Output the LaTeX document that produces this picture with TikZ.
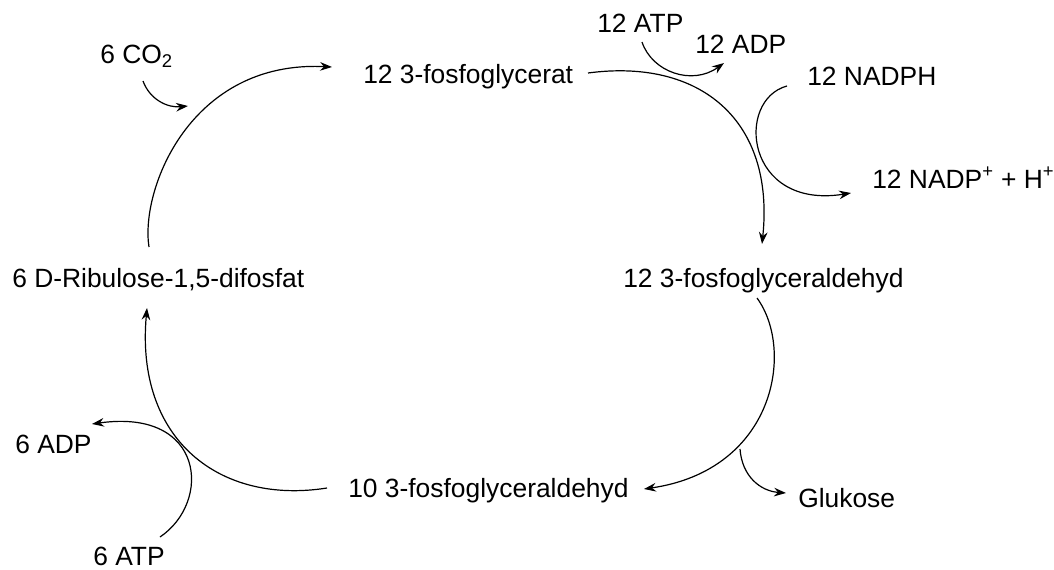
\documentclass[tikz,border=0pt]{standalone}
\usepackage{fontspec}
\setmainfont{Liberation Sans}
\usetikzlibrary{arrows.meta}
\begin{document}
\begin{tikzpicture}[x=0.75pt,y=-0.75pt,
  lbl/.style={anchor=base west,inner sep=0pt,font=\fontsize{19.8}{24}\selectfont},
  flow/.style={line width=0.9pt,-{Stealth[length=9pt,width=6.5pt,inset=3pt]}},
  line/.style={line width=0.9pt}]
\useasboundingbox (0,0) rectangle (1054,569);

% compounds of the cycle
\node[lbl] (pga)  at (363,83)  {12 3-fosfoglycerat};
\node[lbl] (gap)  at (623,287) {12 3-fosfoglyceraldehyd};
\node[lbl] (gapr) at (348,497) {10 3-fosfoglyceraldehyd};
\node[lbl] (rubp) at (12,287)  {6 D-Ribulose-1,5-difosfat};

% co-substrates and products
\node[lbl] (co2)   at (100,63)  {6 CO\textsubscript{2}};
\node[lbl] (atp1)  at (597,32)  {12 ATP};
\node[lbl] (adp1)  at (695,53)  {12 ADP};
\node[lbl] (nadph) at (807,85)  {12 NADPH};
\node[lbl] (nadp)  at (872,188) {12 NADP\textsuperscript{+} + H\textsuperscript{+}};
\node[lbl] (glc)   at (798,507) {Glukose};
\node[lbl] (adp2)  at (15,453)  {6 ADP};
\node[lbl] (atp2)  at (93,565)  {6 ATP};

% arc end points
\coordinate (rubpTop) at (149,247);
\coordinate (pgaIn)   at (332,67);
\coordinate (pgaOut)  at (588,73);
\coordinate (gapIn)   at (762,244);
\coordinate (gapOut)  at (757,298);
\coordinate (gaprIn)  at (644,489);
\coordinate (gaprOut) at (327,488);
\coordinate (rubpIn)  at (147,308);
\coordinate (co2s)    at (143,81);
\coordinate (co2e)    at (188,106);
\coordinate (atp1s)   at (642,42);
\coordinate (adp1e)   at (724,63);
\coordinate (nadphs)  at (787,86);
\coordinate (nadpe)   at (851,193);
\coordinate (glcs)    at (740,449);
\coordinate (glce)    at (786,493);
\coordinate (atp2s)   at (160,537);
\coordinate (adp2e)   at (92,424);

% carboxylation
\draw[flow] (rubpTop) .. controls (140,190) and (190,60) .. (pgaIn);
\draw[flow] (co2s) .. controls (150,100) and (168,108) .. (co2e);

% reduction
\draw[flow] (pgaOut) .. controls (700,58) and (775,120) .. (gapIn);
\draw[flow] (atp1s) .. controls (652,72) and (692,86) .. (adp1e);
\draw[flow] (nadphs) .. controls (735,100) and (745,210) .. (nadpe);

% split into glucose and recycled triose
\draw[flow] (gapOut) .. controls (795,350) and (775,470) .. (gaprIn);
\draw[flow] (glcs) .. controls (742,476) and (760,491) .. (glce);

% regeneration
\draw[flow] (gaprOut) .. controls (220,505) and (135,440) .. (rubpIn);
\draw[flow] (atp2s) .. controls (212,502) and (205,408) .. (adp2e);
\end{tikzpicture}
\end{document}
